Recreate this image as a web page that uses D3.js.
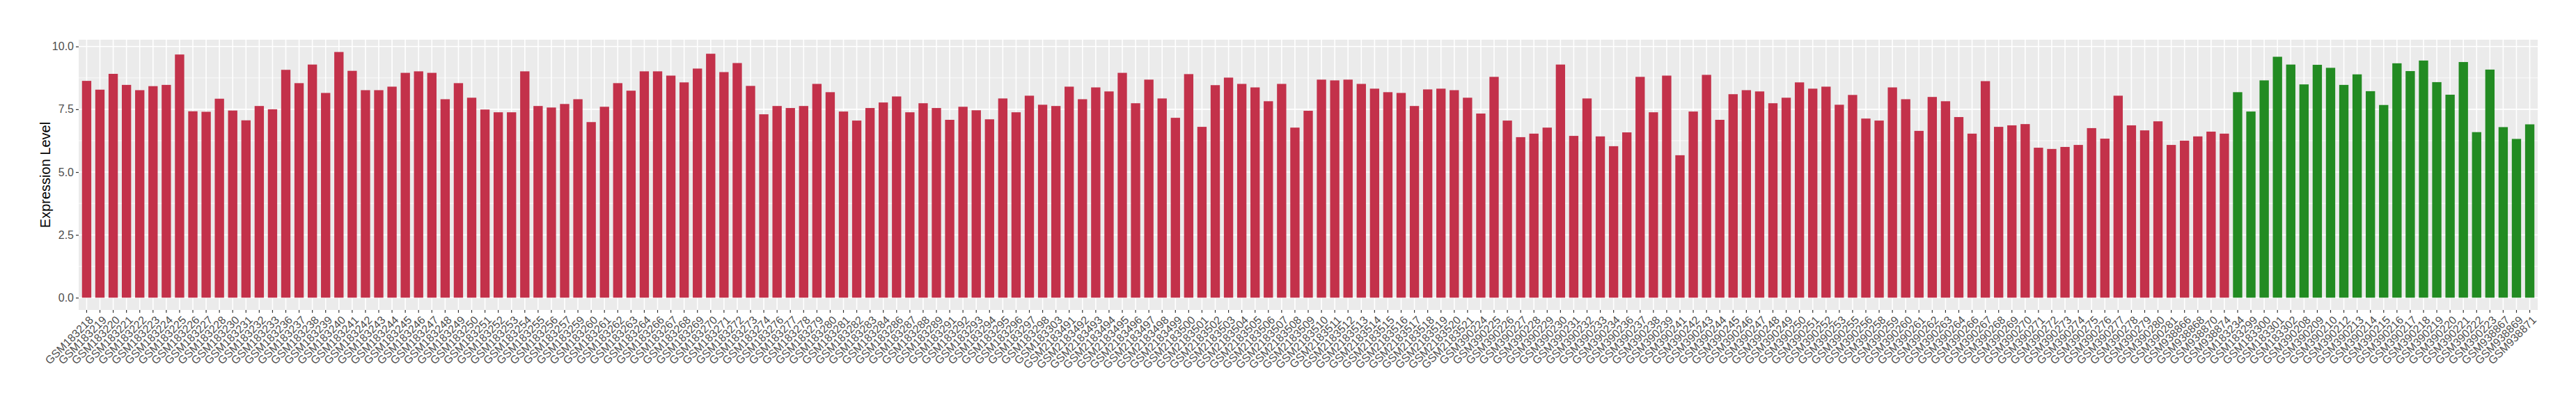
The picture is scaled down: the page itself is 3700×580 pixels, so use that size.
<!DOCTYPE html>
<html>
<head>
<meta charset="utf-8">
<script src="https://cdn.jsdelivr.net/npm/d3@7"></script>
<style>
  html, body { margin: 0; padding: 0; background: #ffffff; }
  svg { display: block; }
  text { font-family: "Liberation Sans", Arial, Helvetica, sans-serif; }
</style>
</head>
<body>
<svg id="chart" width="3700" height="580"></svg>
<script>
// ---------- DATA ----------
const groupASamples = [
  "GSM183218","GSM183219","GSM183220","GSM183221","GSM183222","GSM183223","GSM183224","GSM183225","GSM183226","GSM183227",
  "GSM183228","GSM183230","GSM183231","GSM183232","GSM183233","GSM183236","GSM183237","GSM183238","GSM183239","GSM183240",
  "GSM183241","GSM183242","GSM183243","GSM183244","GSM183245","GSM183246","GSM183247","GSM183248","GSM183249","GSM183250",
  "GSM183251","GSM183252","GSM183253","GSM183254","GSM183255","GSM183256","GSM183257","GSM183259","GSM183260","GSM183261",
  "GSM183262","GSM183263","GSM183264","GSM183266","GSM183267","GSM183268","GSM183269","GSM183270","GSM183271","GSM183272",
  "GSM183273","GSM183274","GSM183276","GSM183277","GSM183278","GSM183279","GSM183280","GSM183281","GSM183282","GSM183283",
  "GSM183284","GSM183286","GSM183287","GSM183288","GSM183289","GSM183291","GSM183292","GSM183293","GSM183294","GSM183295",
  "GSM183296","GSM183297","GSM183298","GSM183303","GSM2183491","GSM2183492","GSM2183493","GSM2183494","GSM2183495","GSM2183496",
  "GSM2183497","GSM2183498","GSM2183499","GSM2183500","GSM2183501","GSM2183502","GSM2183503","GSM2183504","GSM2183505","GSM2183506",
  "GSM2183507","GSM2183508","GSM2183509","GSM2183510","GSM2183511","GSM2183512","GSM2183513","GSM2183514","GSM2183515","GSM2183516",
  "GSM2183517","GSM2183518","GSM2183519","GSM2183520","GSM2183521","GSM390224","GSM390225","GSM390226","GSM390227","GSM390228",
  "GSM390229","GSM390230","GSM390231","GSM390232","GSM390233","GSM390234","GSM390236","GSM390237","GSM390238","GSM390239",
  "GSM390241","GSM390242","GSM390243","GSM390244","GSM390245","GSM390246","GSM390247","GSM390248","GSM390249","GSM390250",
  "GSM390251","GSM390252","GSM390253","GSM390255","GSM390256","GSM390258","GSM390259","GSM390260","GSM390261","GSM390262",
  "GSM390263","GSM390264","GSM390266","GSM390267","GSM390268","GSM390269","GSM390270","GSM390271","GSM390272","GSM390273",
  "GSM390274","GSM390275","GSM390276","GSM390277","GSM390278","GSM390279","GSM390280","GSM390281","GSM938866","GSM938868",
  "GSM938870","GSM938874"
];
const groupAValues = [
  8.63,8.28,8.91,8.47,8.26,8.42,8.47,9.68,7.42,7.40,
  7.92,7.45,7.06,7.63,7.50,9.07,8.54,9.28,8.15,9.78,
  9.03,8.26,8.26,8.40,8.95,9.01,8.95,7.90,8.54,7.96,
  7.49,7.38,7.38,9.01,7.63,7.57,7.71,7.90,6.99,7.60,
  8.54,8.24,9.01,9.01,8.84,8.57,9.12,9.71,8.98,9.34,
  8.43,7.30,7.63,7.55,7.63,8.51,8.18,7.41,7.05,7.55,
  7.77,8.01,7.38,7.74,7.55,7.08,7.60,7.46,7.10,7.93,
  7.38,8.04,7.68,7.63,8.40,7.90,8.37,8.21,8.95,7.74,
  8.68,7.93,7.16,8.90,6.80,8.46,8.76,8.51,8.37,7.82,
  8.51,6.77,7.44,8.68,8.65,8.68,8.51,8.32,8.18,8.15,
  7.63,8.29,8.32,8.26,7.96,7.33,8.79,7.05,6.39,6.53,
  6.77,9.28,6.44,7.93,6.42,6.03,6.58,8.79,7.38,8.84,
  5.67,7.41,8.87,7.08,8.10,8.26,8.21,7.74,7.96,8.57,
  8.32,8.40,7.68,8.07,7.13,7.05,8.37,7.90,6.64,7.99,
  7.82,7.19,6.53,8.62,6.80,6.86,6.91,5.97,5.92,6.00,
  6.08,6.75,6.33,8.04,6.86,6.66,7.02,6.08,6.25,6.42,
  6.61,6.53
];
const groupBSamples = [
  "GSM183234","GSM183299","GSM183300","GSM183301","GSM183302","GSM390208","GSM390209","GSM390210","GSM390212","GSM390213",
  "GSM390214","GSM390215","GSM390216","GSM390217","GSM390218","GSM390219","GSM390220","GSM390221","GSM390222","GSM390223",
  "GSM938867","GSM938869","GSM938871"
];
const groupBValues = [
  8.18,7.41,8.65,9.59,9.28,8.49,9.27,9.15,8.47,8.89,
  8.22,7.67,9.33,9.02,9.44,8.58,8.08,9.38,6.59,9.08,
  6.79,6.32,6.90
];
const yTickValues = [0, 2.5, 5, 7.5, 10];
const yTitle = "Expression Level";
const groupColors = { A: "#C3314A", B: "#228B22" };

// ---------- BUILD ----------
const rows = groupASamples.map((s, i) => ({ sample: s, value: groupAValues[i], group: "A" }))
  .concat(groupBSamples.map((s, i) => ({ sample: s, value: groupBValues[i], group: "B" })));

const panel = { left: 113, right: 3645, top: 57, bottom: 445 };
const svg = d3.select("#chart");

const x = d3.scaleBand()
  .domain(rows.map(d => d.sample))
  .range([panel.left, panel.right])
  .paddingInner(0.3)
  .paddingOuter(0.25);

const yMax = d3.max(rows, d => d.value);
const y = d3.scaleLinear()
  .domain([-0.05 * yMax, 1.05 * yMax])
  .range([panel.bottom, panel.top]);

// panel background
svg.append("rect")
  .attr("x", panel.left).attr("y", panel.top)
  .attr("width", panel.right - panel.left).attr("height", panel.bottom - panel.top)
  .attr("fill", "#EBEBEB");

// minor y gridlines
const minor = [];
for (let i = 0; i < yTickValues.length - 1; i++) minor.push((yTickValues[i] + yTickValues[i + 1]) / 2);
const gGrid = svg.append("g");
gGrid.selectAll("line.minor").data(minor).join("line")
  .attr("x1", panel.left).attr("x2", panel.right)
  .attr("y1", d => y(d)).attr("y2", d => y(d))
  .attr("stroke", "#ffffff").attr("stroke-width", 0.8);
// major y gridlines
gGrid.selectAll("line.majory").data(yTickValues).join("line")
  .attr("x1", panel.left).attr("x2", panel.right)
  .attr("y1", d => y(d)).attr("y2", d => y(d))
  .attr("stroke", "#ffffff").attr("stroke-width", 1.6);
// major x gridlines
svg.append("g").selectAll("line").data(rows).join("line")
  .attr("x1", d => x(d.sample) + x.bandwidth() / 2).attr("x2", d => x(d.sample) + x.bandwidth() / 2)
  .attr("y1", panel.top).attr("y2", panel.bottom)
  .attr("stroke", "#ffffff").attr("stroke-width", 1.6);

// bars
svg.append("g").selectAll("rect").data(rows).join("rect")
  .attr("x", d => x(d.sample))
  .attr("width", x.bandwidth())
  .attr("y", d => y(d.value))
  .attr("height", d => y(0) - y(d.value))
  .attr("fill", d => groupColors[d.group]);

// y axis
const yAxis = svg.append("g")
  .attr("transform", `translate(${panel.left},0)`)
  .call(d3.axisLeft(y).tickValues(yTickValues).tickFormat(d3.format(".1f")).tickSize(4).tickPadding(3));
yAxis.select(".domain").remove();
yAxis.selectAll(".tick line").attr("stroke", "#333333").attr("stroke-width", 1.2);
yAxis.selectAll(".tick text").attr("fill", "#4D4D4D").style("font-size", "16px")
  .style("font-family", '"Liberation Sans", Arial, sans-serif');

// x axis
const xAxis = svg.append("g")
  .attr("transform", `translate(0,${panel.bottom})`)
  .call(d3.axisBottom(x).tickSize(4).tickPadding(3));
xAxis.select(".domain").remove();
xAxis.selectAll(".tick line").attr("stroke", "#333333").attr("stroke-width", 1.2);
xAxis.selectAll(".tick text")
  .attr("fill", "#4D4D4D")
  .style("font-size", "16px")
  .style("font-family", '"Liberation Sans", Arial, sans-serif')
  .attr("y", 0).attr("dy", "0.75em").attr("dx", 0)
  .attr("text-anchor", "end")
  .attr("transform", "translate(2,7) rotate(-45)");

// y title
svg.append("text")
  .attr("transform", `translate(72,${(panel.top + panel.bottom) / 2}) rotate(-90)`)
  .attr("text-anchor", "middle")
  .attr("fill", "#000000")
  .style("font-size", "20px")
  .text(yTitle);
</script>
</body>
</html>
